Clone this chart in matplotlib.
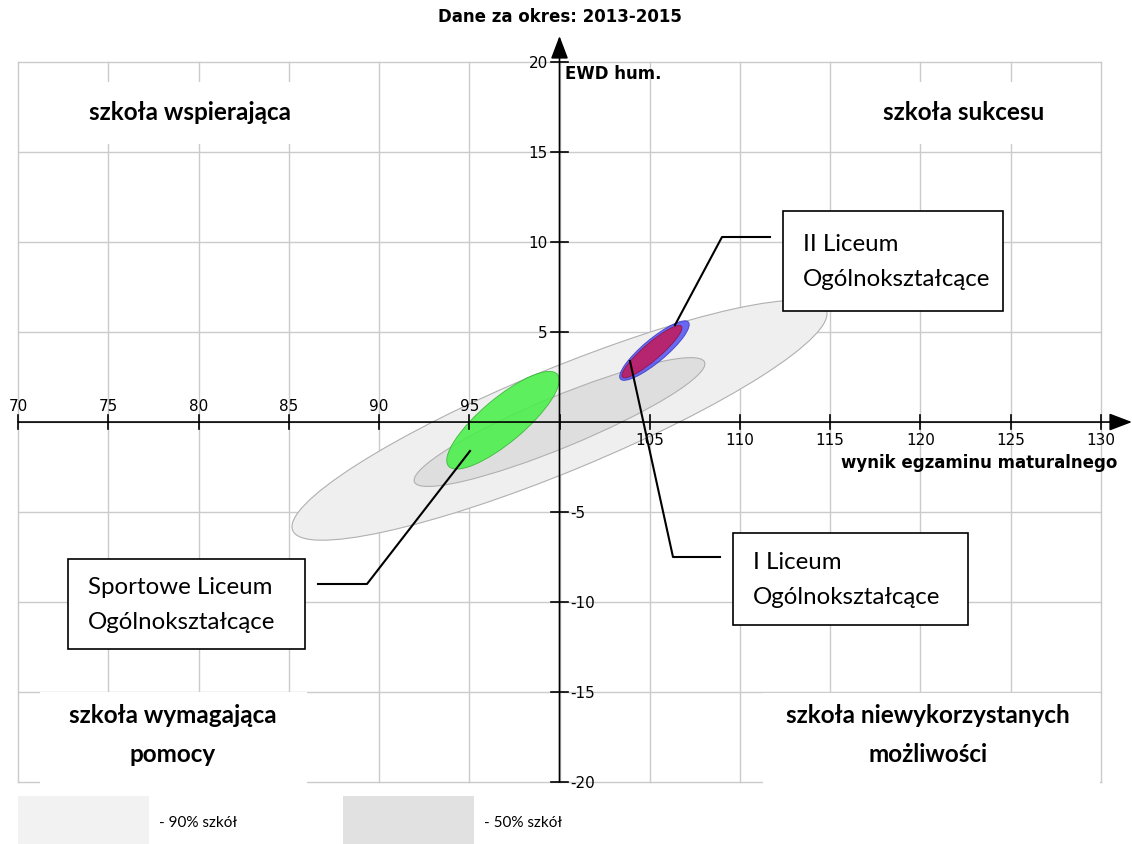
import matplotlib.pyplot as plt
from matplotlib.patches import Ellipse, Rectangle

# --- data --------------------------------------------------------------
title = 'Dane za okres: 2013-2015'
x_label = 'wynik egzaminu maturalnego'
y_label = 'EWD hum.'
x_ticks = [70, 75, 80, 85, 90, 95, 100, 105, 110, 115, 120, 125, 130]
y_ticks = [-20, -15, -10, -5, 0, 5, 10, 15, 20]

# population bands (90% and 50% of schools)
band_labels = ['- 90% szkół', '- 50% szkół']
band_cx = [100.0, 100.0]
band_cy = [0.1, 0.0]
band_a = [16.0, 8.7]
band_b = [2.85, 1.42]
band_angle = [22.5, 22.5]
band_colors = ['#efefef', '#dedede']

# schools
schools = ['Sportowe Liceum\nOgólnokształcące', 'II Liceum\nOgólnokształcące',
           'I Liceum\nOgólnokształcące']
school_cx = [96.87, 105.26, 105.12]
school_cy = [0.1, 3.97, 3.91]
school_a = [3.95, 2.46, 2.16]
school_b = [1.22, 0.64, 0.47]
school_angle = [40.2, 40.0, 40.8]
school_colors = ['#44f044', '#5050f4', '#c41a58']
school_edges = ['#2fb02f', '#3535c0', '#8a1040']

quadrants = ['szkoła wspierająca', 'szkoła sukcesu',
             'szkoła wymagająca\npomocy', 'szkoła niewykorzystanych\nmożliwości']

# --- canvas: one axes over the whole figure, pixel helpers ---------------
W, H = 1132, 845
X0, X1 = 69.0, 131.72
Y0, Y1 = -23.44, 23.5


def dx(p):
    return X0 + p / W * (X1 - X0)


def dy(p):
    return Y1 - p / H * (Y1 - Y0)


fig = plt.figure(figsize=(W / 100, H / 100), dpi=100)
ax = fig.add_axes([0, 0, 1, 1])
ax.set_xlim(X0, X1)
ax.set_ylim(Y0, Y1)
ax.axis('off')

grid_c = '#cbcbcb'
xmin, xmax = x_ticks[0], x_ticks[-1]
ymin, ymax = y_ticks[0], y_ticks[-1]
for v in x_ticks:
    ax.plot([v, v], [ymin, ymax], color=grid_c, lw=1, zorder=1)
for v in y_ticks:
    ax.plot([xmin, xmax], [v, v], color=grid_c, lw=1, zorder=1)

# white quadrant label boxes hiding the grid
quad_boxes = [(20, 83, 335, 145), (850, 83, 1097, 145),
              (40, 693, 307, 786), (763, 694, 1100, 786)]
quad_text_pos = [(190, 113), (964, 113), (173, 735), (928, 735)]
for (l, t, r, b), txt, (tx, ty) in zip(quad_boxes, quadrants, quad_text_pos):
    ax.add_patch(Rectangle((dx(l), dy(b)), dx(r) - dx(l), dy(t) - dy(b),
                           facecolor='white', edgecolor='none', zorder=1.5))
    ax.text(dx(tx), dy(ty), txt, ha='center', va='center', family='Lato',
            fontweight='bold', fontsize=17.5, linespacing=1.85, zorder=2)

# bands
for cx, cy, a, b, ang, c in zip(band_cx, band_cy, band_a, band_b, band_angle, band_colors):
    ax.add_patch(Ellipse((cx, cy), 2 * a, 2 * b, angle=ang, facecolor=c,
                         edgecolor='#b0b0b0', lw=0.8, zorder=2))

# schools
for cx, cy, a, b, ang, c, ec in zip(school_cx, school_cy, school_a, school_b,
                                     school_angle, school_colors, school_edges):
    ax.add_patch(Ellipse((cx, cy), 2 * a, 2 * b, angle=ang, facecolor=c,
                         edgecolor=ec, lw=0.6, alpha=0.85, zorder=3))

# axes with arrows
arrow = dict(arrowstyle='-|>,head_length=1.0,head_width=0.38', color='black',
             lw=1.2, mutation_scale=14, shrinkA=0, shrinkB=0)
ax.annotate('', xy=(dx(1132), 0), xytext=(xmin, 0), arrowprops=arrow, zorder=4)
ax.annotate('', xy=(100, dy(37)), xytext=(100, ymin), arrowprops=arrow, zorder=4)

for v in x_ticks:
    ax.plot([v, v], [-0.4, 0.4], color='black', lw=1.2, zorder=4)
    if v < 100:
        ax.text(v, 0.9, str(v), ha='center', va='center', fontsize=11, zorder=4)
    elif v > 100:
        ax.text(v, -0.95, str(v), ha='center', va='center', fontsize=11, zorder=4)
for v in y_ticks:
    if v == 0:
        continue
    ax.plot([99.55, 100.45], [v, v], color='black', lw=1.2, zorder=4)
    if v > 0:
        ax.text(99.35, v, str(v), ha='right', va='center', fontsize=11, zorder=4)
    else:
        ax.text(100.6, v, str(v), ha='left', va='center', fontsize=11, zorder=4)

ax.text(dx(560), dy(17), title, ha='center', va='center', fontsize=12, fontweight='bold')
ax.text(dx(565), dy(74), y_label, ha='left', va='center', fontsize=12, fontweight='bold')
ax.text(dx(1117), dy(463), x_label, ha='right', va='center', fontsize=12, fontweight='bold')

# callout boxes with leader lines
callout_boxes = [(68, 560, 305, 650), (783, 212, 1003, 312), (733, 534, 968, 626)]
callout_lines = [[(470, 452), (367, 585), (318, 585)],
                 [(675, 326), (722, 238), (770, 238)],
                 [(630, 362), (673, 558), (720, 558)]]
for (l, t, r, b), pts, txt in zip(callout_boxes, callout_lines, schools):
    ax.plot([dx(p[0]) for p in pts], [dy(p[1]) for p in pts], color='black', lw=1.5, zorder=5)
    ax.add_patch(Rectangle((dx(l), dy(b)), dx(r) - dx(l), dy(t) - dy(b),
                           facecolor='white', edgecolor='black', lw=1.2, zorder=5))
    ax.text(dx(l + 20), dy((t + b) / 2), txt, ha='left', va='center', family='Lato',
            fontsize=17.3, linespacing=1.8, zorder=6)

# legend
leg_x = [18, 343]
for lx, lab, c in zip(leg_x, band_labels, ['#f2f2f2', '#e1e1e1']):
    ax.add_patch(Rectangle((dx(lx), dy(845)), dx(lx + 131) - dx(lx), dy(797) - dy(845),
                           facecolor=c, edgecolor='none', zorder=1))
    ax.text(dx(lx + 141), dy(823), lab, ha='left', va='center', family='Lato',
            fontsize=11, zorder=2)

fig.savefig('out.png', dpi=100)
